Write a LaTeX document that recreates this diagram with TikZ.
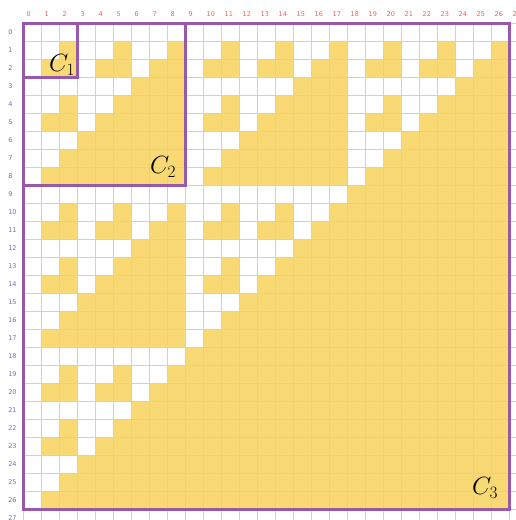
\documentclass[tikz,border=0pt]{standalone}
\usepackage{fontspec}
\newfontfamily\lblfont{DejaVu Sans}
\definecolor{cellY}{RGB}{249,217,115}
\definecolor{gridG}{RGB}{208,208,208}
\definecolor{boxP}{RGB}{152,88,172}
\definecolor{colR}{RGB}{232,98,98}
\definecolor{rowB}{RGB}{112,112,184}
\begin{document}
\begin{tikzpicture}[x=1pt,y=-1pt,
  lbl/.style={font=\lblfont\fontsize{6.5}{7}\selectfont, inner sep=0pt, anchor=west},
  collbl/.style={lbl, text=colR},
  rowlbl/.style={lbl, text=rowB},
  gridline/.style={draw=gridG, line width=0.6pt},
  cellfill/.style={fill=cellY},
  pbox/.style={draw=boxP, line width=3pt},
  clbl/.style={font=\fontsize{25}{28}\selectfont, inner sep=0pt}]
\useasboundingbox (0,0) rectangle (516,520);
\clip (0,0) rectangle (516,520);
\fill[white] (0,0) rectangle (516,520);
\begin{scope}[shift={(23,23.5)}, x=18pt, y=-18pt]
  \foreach \i in {0,...,26}{
    \foreach \j in {0,...,26}{
      \pgfmathtruncatemacro\sa{mod(\i,3)+mod(int(\i/3),3)+mod(int(\i/9),3)}
      \pgfmathtruncatemacro\sb{mod(\j,3)+mod(int(\j/3),3)+mod(int(\j/9),3)}
      \pgfmathtruncatemacro\nn{\i+\j}
      \pgfmathtruncatemacro\sc{mod(\nn,3)+mod(int(\nn/3),3)+mod(int(\nn/9),3)+int(\nn/27)}
      \pgfmathtruncatemacro\dd{\sa+\sb-\sc}
      \ifnum\dd>0
        \fill[cellfill] (\j,\i) rectangle ++(1,1);
      \fi
    }
  }
  \foreach \k in {0,...,28}{
    \draw[gridline] (\k,0) -- (\k,28.5);
    \draw[gridline] (0,\k) -- (28.5,\k);
  }
  \foreach \k in {0,...,27}{
    \node[collbl] (c\k) at (\k+0.19,-0.53) {\k};
    \node[rowlbl] (r\k) at (-0.83,\k+0.5) {\k};
  }
  \draw[pbox] (0,0) rectangle (3,3);
  \draw[pbox] (0,0) rectangle (9,9);
  \draw[pbox] (0,0) rectangle (27,27);
  \node[clbl] (C1) at (2.17,2.3) {$C_1$};
  \node[clbl] (C2) at (7.78,7.97) {$C_2$};
  \node[clbl] (C3) at (25.67,25.8) {$C_3$};
\end{scope}
\end{tikzpicture}
\end{document}
